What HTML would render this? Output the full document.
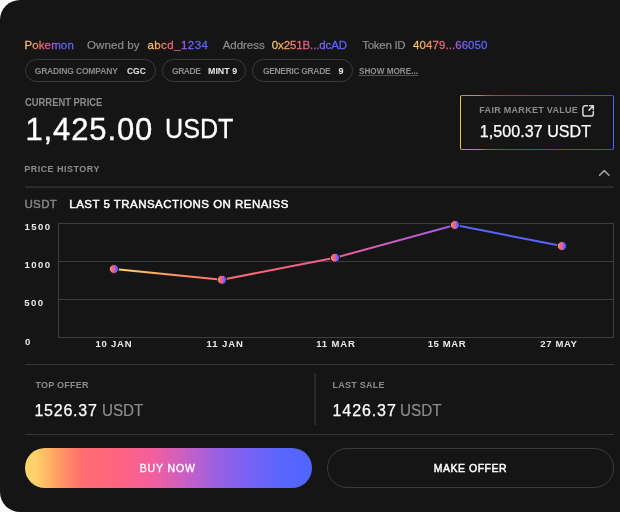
<!DOCTYPE html>
<html><head><meta charset="utf-8">
<style>
*{margin:0;padding:0;box-sizing:border-box}
html,body{width:620px;height:512px;overflow:hidden;background:#fff}
body{font-family:"Liberation Sans",Arial,sans-serif;position:relative}
.card{position:absolute;left:0;top:0;width:680px;height:512px;background:#151515;border-radius:20px}
.t{position:absolute;white-space:nowrap;line-height:1;opacity:.999}
.g{background:linear-gradient(90deg,#ffd66b 0%,#fbb862 12%,#f89062 24%,#f26272 38%,#dc5c98 50%,#9a5eec 60%,#6664fc 72%,#5a66ff 100%);-webkit-background-clip:text;background-clip:text;color:transparent;-webkit-text-fill-color:transparent;padding-bottom:3px}
.lbl{color:#8c8c8c}
.lblb{color:#858585}
.cap{color:#8c8c8c}
.capw{color:#e6e6e6}
.show{color:#909090;text-decoration:underline;text-decoration-color:#555;text-underline-offset:1px}
.wt{color:#fff}
.ax{color:#e8e8e8}
.pill{position:absolute;top:59px;height:23px;border:1px solid #3a3a3a;border-radius:12px}
.hr{position:absolute;height:2px;background:#2a2a2a}
.btn{position:absolute;top:448px;height:40px;border-radius:20px}
</style></head><body>
<div class="card"></div>

<div class="pill" style="left:25px;width:131px"></div>
<div class="pill" style="left:162px;width:84px"></div>
<div class="pill" style="left:252px;width:101px"></div>

<div style="position:absolute;left:460px;top:95px;width:154px;height:55px;padding:1px;border-radius:2px;background:linear-gradient(90deg,#e8c65c 0%,#e8c65c 12%,#dc7a5a 17%,#cc4a5c 26%,#c4466c 48%,#9a48b4 62%,#6a52e0 76%,#5862f6 85%,#5662f8 100%);">
<div style="width:100%;height:100%;background:#151515;border-radius:1px"></div></div>
<div style="position:absolute;left:461px;top:95px;width:152px;height:1px;background:rgba(21,21,21,.25)"></div>
<div style="position:absolute;left:461px;top:149px;width:152px;height:1px;background:rgba(21,21,21,.25)"></div>
<svg style="position:absolute;left:581px;top:104px" width="14" height="14" viewBox="0 0 14 14" fill="none" stroke="#d8d8d8" stroke-width="1.5" stroke-linecap="round" stroke-linejoin="round">
<path d="M6.6 1.8H4a2.1 2.1 0 0 0-2.1 2.1V9.9A2.1 2.1 0 0 0 4 12H10.2a2.1 2.1 0 0 0 2.1-2.1V7.4"/><path d="M8.7 1.8H12.3V5.6M12.2 1.9L7.9 6.2"/></svg>

<svg style="position:absolute;left:597px;top:168px" width="15" height="10" viewBox="0 0 15 10"><path d="M2.6 7.3L7.3 2.6L12 7.3" fill="none" stroke="#a0a0a0" stroke-width="1.6" stroke-linecap="round" stroke-linejoin="round"/></svg>
<div class="hr" style="left:25px;top:186px;width:589px"></div>

<svg style="position:absolute;left:0;top:0" width="620" height="512">
<defs>
<linearGradient id="lg" gradientUnits="userSpaceOnUse" x1="114" y1="0" x2="562" y2="0">
<stop offset="0" stop-color="#ffd66b"/><stop offset="0.12" stop-color="#ff9c64"/><stop offset="0.24" stop-color="#ff6a6c"/><stop offset="0.49" stop-color="#f45c96"/><stop offset="0.74" stop-color="#a55ee6"/><stop offset="0.775" stop-color="#5a63ff"/><stop offset="1" stop-color="#5a63ff"/>
</linearGradient>
<linearGradient id="dg" x1="0" y1="0" x2="1" y2="0">
<stop offset="0" stop-color="#ffd66b"/><stop offset="0.18" stop-color="#ff8266"/><stop offset="0.36" stop-color="#ff5f7a"/><stop offset="0.5" stop-color="#f65c94"/><stop offset="0.64" stop-color="#9c5ef0"/><stop offset="0.8" stop-color="#5a62ff"/><stop offset="1" stop-color="#4f66ff"/>
</linearGradient>
</defs>
<g stroke="#3d3d3d" stroke-width="1" fill="none">
<rect x="58.5" y="223.5" width="555" height="114"/>
<line x1="58.5" y1="261.5" x2="613.5" y2="261.5"/>
<line x1="58.5" y1="299.5" x2="613.5" y2="299.5"/>
</g>
<polyline points="114,269 222,279.7 335,257.8 455,225 562,246" fill="none" stroke="url(#lg)" stroke-width="2"/>
<g fill="url(#dg)" stroke="#1a1a1a" stroke-width="1">
<circle cx="114" cy="269" r="4.5"/><circle cx="222" cy="279.7" r="4.5"/><circle cx="335" cy="257.8" r="4.5"/><circle cx="455" cy="225" r="4.5"/><circle cx="562" cy="246" r="4.5"/>
</g>
</svg>

<div class="hr" style="left:25px;top:364px;width:589px;height:1px;background:#363636"></div>
<div style="position:absolute;left:314px;top:373px;width:2px;height:52px;background:#2a2a2a"></div>
<div class="hr" style="left:25px;top:434px;width:589px;height:1px;background:#363636"></div>

<div class="btn" style="left:25px;width:287px;background:linear-gradient(90deg,#ffd66b 0%,#ffd06a 4%,#ffa062 11%,#ff6d70 20%,#ff6282 33%,#f45f9c 44%,#c860c4 56%,#9c60e0 66%,#7662f4 78%,#5866ff 90%,#4f66ff 100%)"></div>
<div class="btn" style="left:327px;width:287px;border:1px solid #3a3a3a"></div>

<span class="t g" style="left:24.40px;top:39.80px;font-size:11.5px;letter-spacing:0.133px;-webkit-text-stroke:0.3px currentColor">Pokemon</span>
<span class="t lbl" style="left:87.00px;top:39.80px;font-size:11.5px;letter-spacing:0.1px;-webkit-text-stroke:0.2px currentColor">Owned by</span>
<span class="t g" style="left:147.40px;top:39.80px;font-size:11.5px;letter-spacing:0.45px;-webkit-text-stroke:0.3px currentColor">abcd_1234</span>
<span class="t lbl" style="left:222.70px;top:39.80px;font-size:11.5px;letter-spacing:-0.033px;-webkit-text-stroke:0.2px currentColor">Address</span>
<span class="t g" style="left:271.80px;top:39.80px;font-size:11.5px;letter-spacing:-0.117px;-webkit-text-stroke:0.3px currentColor">0x251B...dcAD</span>
<span class="t lbl" style="left:362.20px;top:39.80px;font-size:11.5px;letter-spacing:-0.271px;-webkit-text-stroke:0.2px currentColor">Token ID</span>
<span class="t g" style="left:413.10px;top:39.80px;font-size:11.5px;letter-spacing:0.067px;-webkit-text-stroke:0.3px currentColor">40479...66050</span>
<span class="t cap" style="left:34.70px;top:66.90px;font-size:8.5px;letter-spacing:-0.157px;font-weight:700">GRADING COMPANY</span>
<span class="t capw" style="left:126.60px;top:66.90px;font-size:9px;letter-spacing:0px;transform:scaleX(0.94);transform-origin:0 0;font-weight:700">CGC</span>
<span class="t cap" style="left:172.00px;top:66.90px;font-size:8.5px;letter-spacing:-0.45px;font-weight:700">GRADE</span>
<span class="t capw" style="left:207.71px;top:66.90px;font-size:9px;letter-spacing:0px;transform:scaleX(0.9857);transform-origin:0 0;font-weight:700">MINT 9</span>
<span class="t cap" style="left:263.00px;top:66.90px;font-size:8.5px;letter-spacing:-0.35px;font-weight:700">GENERIC GRADE</span>
<span class="t capw" style="left:338.50px;top:66.90px;font-size:9px;letter-spacing:0px;font-weight:700">9</span>
<span class="t show" style="left:358.79px;top:66.90px;font-size:9px;letter-spacing:0px;transform:scaleX(0.9078);transform-origin:0 0;font-weight:700">SHOW MORE...</span>
<span class="t cap" style="left:25.20px;top:98.20px;font-size:10px;letter-spacing:0px;transform:scaleX(0.9402);transform-origin:0 0;font-weight:700">CURRENT PRICE</span>
<span class="t wt" style="left:25.50px;top:113.90px;font-size:31px;letter-spacing:0.871px;-webkit-text-stroke:0.4px currentColor">1,425.00</span>
<span class="t wt" style="left:165.04px;top:115.90px;font-size:27px;letter-spacing:0px;transform:scaleX(0.931);transform-origin:0 0;-webkit-text-stroke:0.3px currentColor">USDT</span>
<span class="t cap" style="left:479.30px;top:106.30px;font-size:9px;letter-spacing:0.294px;font-weight:700">FAIR MARKET VALUE</span>
<span class="t wt" style="left:479.80px;top:124.40px;font-size:16px;letter-spacing:0.075px;-webkit-text-stroke:0.25px currentColor">1,500.37 USDT</span>
<span class="t cap" style="left:24.20px;top:165.20px;font-size:9px;letter-spacing:0.483px;font-weight:700">PRICE HISTORY</span>
<span class="t lblb" style="left:24.40px;top:199.00px;font-size:11.5px;letter-spacing:0.4px;-webkit-text-stroke:0.45px currentColor">USDT</span>
<span class="t wt" style="left:69.30px;top:199.00px;font-size:11.5px;letter-spacing:0.472px;-webkit-text-stroke:0.45px currentColor">LAST 5 TRANSACTIONS ON RENAISS</span>
<span class="t ax" style="left:24.50px;top:222.00px;font-size:9.6px;letter-spacing:1.433px;font-weight:700">1500</span>
<span class="t ax" style="left:24.50px;top:260.20px;font-size:9.6px;letter-spacing:1.433px;font-weight:700">1000</span>
<span class="t ax" style="left:24.20px;top:298.20px;font-size:9.6px;letter-spacing:1.5px;font-weight:700">500</span>
<span class="t ax" style="left:25.00px;top:336.60px;font-size:9.6px;letter-spacing:0px;font-weight:700">0</span>
<span class="t ax" style="left:95.40px;top:339.00px;font-size:9.5px;letter-spacing:0.78px;font-weight:700">10 JAN</span>
<span class="t ax" style="left:206.50px;top:339.00px;font-size:9.5px;letter-spacing:0.92px;font-weight:700">11 JAN</span>
<span class="t ax" style="left:316.20px;top:339.00px;font-size:9.5px;letter-spacing:0.88px;font-weight:700">11 MAR</span>
<span class="t ax" style="left:427.70px;top:339.00px;font-size:9.5px;letter-spacing:0.62px;font-weight:700">15 MAR</span>
<span class="t ax" style="left:540.30px;top:339.00px;font-size:9.5px;letter-spacing:0.64px;font-weight:700">27 MAY</span>
<span class="t cap" style="left:35.40px;top:380.50px;font-size:9px;letter-spacing:0.25px;font-weight:700">TOP OFFER</span>
<span class="t wt" style="left:34.40px;top:403.00px;font-size:16px;letter-spacing:0.783px;-webkit-text-stroke:0.25px currentColor">1526.37</span>
<span class="t lbl" style="left:102.15px;top:403.00px;font-size:16px;letter-spacing:0px;transform:scaleX(0.95);transform-origin:0 0;-webkit-text-stroke:0.2px currentColor">USDT</span>
<span class="t cap" style="left:332.50px;top:380.50px;font-size:9px;letter-spacing:0.263px;font-weight:700">LAST SALE</span>
<span class="t wt" style="left:332.50px;top:403.00px;font-size:16px;letter-spacing:0.917px;-webkit-text-stroke:0.25px currentColor">1426.37</span>
<span class="t lbl" style="left:400.45px;top:403.00px;font-size:16px;letter-spacing:0px;transform:scaleX(0.9524);transform-origin:0 0;-webkit-text-stroke:0.2px currentColor">USDT</span>
<span class="t wt" style="left:139.70px;top:462.80px;font-size:10.5px;letter-spacing:0.867px;-webkit-text-stroke:0.3px currentColor">BUY NOW</span>
<span class="t wt" style="left:433.80px;top:462.90px;font-size:10.5px;letter-spacing:0.5px;-webkit-text-stroke:0.45px currentColor">MAKE OFFER</span>
</body></html>
